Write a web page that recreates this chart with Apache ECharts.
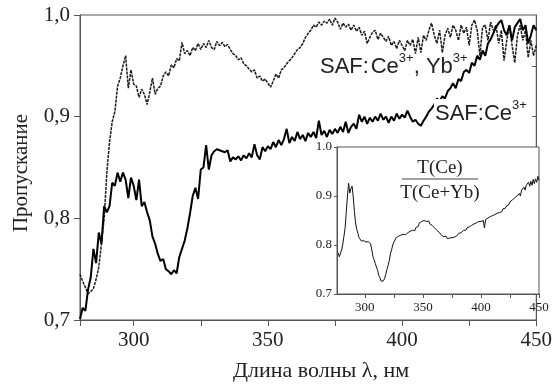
<!DOCTYPE html>
<html>
<head>
<meta charset="utf-8">
<script src="https://cdn.jsdelivr.net/npm/echarts@6/dist/echarts.min.js"></script>
<style>
  html, body { margin: 0; padding: 0; background: #fff; }
  #chart { width: 555px; height: 387px; }
</style>
</head>
<body>
<div id="chart"></div>
<script>
// main spectra, sampled every 1 nm from 280 nm
const mainStart = 280
const mainStep = 1
// SAF:Ce3+, Yb3+ (dotted)
const ceYb = [
  0.745, 0.738, 0.732, 0.726, 0.728, 0.731, 0.740, 0.752, 0.775, 0.800,
  0.845, 0.875, 0.895, 0.905, 0.930, 0.938, 0.950, 0.960, 0.928, 0.946,
  0.932, 0.930, 0.919, 0.927, 0.922, 0.912, 0.924, 0.938, 0.922, 0.928,
  0.930, 0.940, 0.944, 0.940, 0.951, 0.948, 0.957, 0.955, 0.973, 0.962,
  0.965, 0.960, 0.968, 0.965, 0.972, 0.966, 0.972, 0.968, 0.975, 0.968,
  0.966, 0.974, 0.970, 0.973, 0.969, 0.971, 0.966, 0.962, 0.960, 0.956,
  0.958, 0.952, 0.950, 0.947, 0.944, 0.946, 0.938, 0.940, 0.935, 0.937,
  0.933, 0.929, 0.935, 0.942, 0.938, 0.946, 0.948, 0.952, 0.955, 0.958,
  0.962, 0.966, 0.968, 0.972, 0.978, 0.982, 0.985, 0.990, 0.988, 0.993,
  0.990, 0.994, 0.992, 0.996, 0.990, 0.997, 0.993, 0.986, 0.992, 0.988,
  0.991, 0.985, 0.990, 0.984, 0.988, 0.980, 0.984, 0.972, 0.978, 0.983,
  0.985, 0.976, 0.982, 0.978, 0.974, 0.979, 0.970, 0.974, 0.967, 0.975,
  0.970, 0.965, 0.975, 0.970, 0.976, 0.962, 0.978, 0.963, 0.980, 0.975,
  0.985, 0.992, 0.980, 0.972, 0.985, 0.963, 0.980, 0.987, 0.978, 0.990,
  0.985, 0.975, 0.990, 0.982, 0.988, 0.970, 0.990, 0.995, 0.985, 0.960,
  0.988, 0.990, 0.975, 0.993, 0.985, 0.990, 0.972, 0.985, 0.955, 0.975,
  0.990, 0.970, 0.953, 0.980, 0.990, 0.975, 0.985, 0.958, 0.975, 0.960,
  0.970
]
// SAF:Ce3+ (solid)
const ce = [
  0.701, 0.712, 0.709, 0.730, 0.742, 0.770, 0.756, 0.786, 0.775, 0.812,
  0.806, 0.812, 0.835, 0.832, 0.845, 0.836, 0.845, 0.838, 0.820, 0.840,
  0.832, 0.818, 0.838, 0.812, 0.816, 0.806, 0.798, 0.782, 0.775, 0.765,
  0.758, 0.760, 0.750, 0.748, 0.745, 0.749, 0.746, 0.762, 0.770, 0.778,
  0.790, 0.805, 0.822, 0.830, 0.819, 0.848, 0.850, 0.872, 0.848, 0.862,
  0.866, 0.868, 0.867, 0.866, 0.865, 0.867, 0.856, 0.860, 0.858, 0.861,
  0.857, 0.862, 0.859, 0.864, 0.860, 0.873, 0.862, 0.858, 0.870, 0.866,
  0.871, 0.868, 0.875, 0.870, 0.877, 0.872, 0.878, 0.888, 0.874, 0.880,
  0.876, 0.885, 0.878, 0.882, 0.876, 0.884, 0.880, 0.885, 0.879, 0.896,
  0.882, 0.886, 0.880, 0.887, 0.883, 0.888, 0.884, 0.890, 0.885, 0.895,
  0.884, 0.890, 0.893, 0.888, 0.902, 0.895, 0.900, 0.893, 0.899, 0.895,
  0.900, 0.896, 0.903, 0.897, 0.900, 0.894, 0.900, 0.896, 0.903, 0.898,
  0.902, 0.899, 0.906, 0.900, 0.895, 0.897, 0.893, 0.891, 0.896, 0.900,
  0.905, 0.908, 0.912, 0.918, 0.915, 0.920, 0.918, 0.925, 0.928, 0.933,
  0.928, 0.937, 0.935, 0.944, 0.946, 0.943, 0.953, 0.950, 0.960, 0.956,
  0.965, 0.960, 0.972, 0.976, 0.982, 0.988, 0.992, 0.995, 0.985, 0.980,
  0.990, 0.975, 0.988, 0.992, 0.996, 0.985, 0.990, 0.972, 0.980, 0.990,
  0.985
]
// inset: T(Ce)/T(Ce+Yb), every 1 nm from 277 nm
const ratioStart = 277
const ratioStep = 1
const ratio = [
  0.784, 0.776, 0.779, 0.790, 0.802, 0.818, 0.835, 0.868, 0.900, 0.926,
  0.906, 0.915, 0.920, 0.898, 0.868, 0.845, 0.832, 0.824, 0.815, 0.812,
  0.808, 0.812, 0.809, 0.811, 0.806, 0.810, 0.807, 0.806, 0.802, 0.790,
  0.776, 0.770, 0.762, 0.755, 0.748, 0.738, 0.733, 0.726, 0.728, 0.727,
  0.732, 0.740, 0.750, 0.758, 0.768, 0.782, 0.790, 0.800, 0.806, 0.810,
  0.815, 0.812, 0.818, 0.815, 0.820, 0.817, 0.822, 0.818, 0.821, 0.819,
  0.825, 0.822, 0.828, 0.826, 0.830, 0.832, 0.829, 0.836, 0.840, 0.838,
  0.845, 0.842, 0.848, 0.845, 0.850, 0.846, 0.848, 0.845, 0.849, 0.843,
  0.846, 0.840, 0.838, 0.835, 0.833, 0.830, 0.828, 0.826, 0.824, 0.820,
  0.822, 0.817, 0.815, 0.818, 0.813, 0.816, 0.814, 0.818, 0.815, 0.818,
  0.816, 0.820, 0.818, 0.822, 0.824, 0.827, 0.825, 0.829, 0.830, 0.833,
  0.830, 0.835, 0.834, 0.837, 0.836, 0.840, 0.838, 0.843, 0.840, 0.845,
  0.843, 0.848, 0.845, 0.848, 0.844, 0.850, 0.835, 0.852, 0.850, 0.855,
  0.853, 0.858, 0.855, 0.860, 0.858, 0.862, 0.860, 0.865, 0.863, 0.866,
  0.870, 0.868, 0.874, 0.876, 0.875, 0.880, 0.884, 0.882, 0.888, 0.885,
  0.892, 0.890, 0.896, 0.894, 0.900, 0.897, 0.905, 0.900, 0.912, 0.908,
  0.918, 0.912, 0.922, 0.918, 0.928, 0.920, 0.930, 0.922, 0.934, 0.925,
  0.935, 0.928, 0.940, 0.932
]

// ticks and labels
const mainXTicks = [280, 300, 325, 350, 375, 400, 425, 450]
const mainXLabels = [300, 350, 400, 450]
const mainYTicks = [0.7, 0.8, 0.9, 1.0]
const rightYTicks = [0.75, 0.8, 0.85, 0.9, 0.95]
const insetXTicks = [300, 325, 350, 375, 400, 425, 450]
const insetXLabels = [300, 350, 400, 450]
const insetYTicks = [0.7, 0.8, 0.9, 1.0]

function pairs(start, step, arr) {
  return arr.map((v, i) => [start + i * step, v])
}

const serif = 'Liberation Serif'
const axisColor = '#555'
const textColor = '#222'

const chart = echarts.init(document.getElementById('chart'), null, {renderer: 'canvas'})

var option = {
  animation: false,
  backgroundColor: '#fff',
  grid: [
    {
      left: 80, top: 15, right: 5, bottom: 65,
      show: true, borderColor: axisColor, borderWidth: 1,
      backgroundColor: 'transparent'
    },
    {
      left: 337, top: 147, right: 16, bottom: 93,
      show: true, borderColor: axisColor, borderWidth: 1,
      backgroundColor: '#fff', z: 5
    }
  ],
  xAxis: [
    {
      gridIndex: 0, type: 'value', min: 280, max: 450,
      axisLine: {lineStyle: {color: axisColor}},
      axisTick: {customValues: mainXTicks, length: 6, lineStyle: {color: axisColor}},
      axisLabel: {
        customValues: mainXLabels, margin: 10,
        fontFamily: serif, fontSize: 21, color: textColor
      },
      splitLine: {show: false},
      name: 'Длина волны λ, нм',
      nameLocation: 'middle',
      nameGap: 40,
      nameTextStyle: {fontFamily: serif, fontSize: 22, color: textColor, padding: [0, 0, 0, 26]}
    },
    {
      gridIndex: 1, type: 'value', min: 276, max: 450, z: 6,
      axisLine: {lineStyle: {color: axisColor}},
      axisTick: {customValues: insetXTicks, length: 4, lineStyle: {color: axisColor}},
      axisLabel: {
        customValues: insetXLabels, margin: 7,
        fontFamily: serif, fontSize: 13, color: textColor
      },
      splitLine: {show: false}
    }
  ],
  yAxis: [
    {
      gridIndex: 0, type: 'value', min: 0.7, max: 1.0,
      axisLine: {show: true, lineStyle: {color: axisColor}},
      axisTick: {show: true, customValues: mainYTicks, length: 6, lineStyle: {color: axisColor}},
      axisLabel: {
        customValues: mainYTicks, margin: 10,
        fontFamily: serif, fontSize: 21, color: textColor,
        formatter: v => v.toFixed(1).replace('.', ',')
      },
      splitLine: {show: false},
      name: 'Пропускание',
      nameLocation: 'middle',
      nameGap: 48,
      nameRotate: 90,
      nameTextStyle: {fontFamily: serif, fontSize: 21, color: textColor, padding: [0, 11, 0, 0]}
    },
    {
      gridIndex: 0, type: 'value', min: 0.7, max: 1.0, position: 'right',
      axisLine: {show: true, lineStyle: {color: axisColor}},
      axisTick: {show: true, inside: true, customValues: rightYTicks, length: 4, lineStyle: {color: axisColor}},
      axisLabel: {show: false},
      splitLine: {show: false}
    },
    {
      gridIndex: 1, type: 'value', min: 0.7, max: 1.0, z: 6,
      axisLine: {show: true, lineStyle: {color: axisColor}},
      axisTick: {show: true, customValues: insetYTicks, length: 3, lineStyle: {color: axisColor}},
      axisLabel: {
        customValues: insetYTicks, margin: 5,
        fontFamily: serif, fontSize: 13, color: textColor,
        formatter: v => v.toFixed(1)
      },
      splitLine: {show: false}
    }
  ],
  series: [
    {
      name: 'SAF:Ce,Yb', type: 'line', xAxisIndex: 0, yAxisIndex: 0,
      data: pairs(mainStart, mainStep, ceYb),
      showSymbol: false, z: 2,
      lineStyle: {color: '#1a1a1a', width: 1.5, type: [3, 1]}
    },
    {
      name: 'SAF:Ce', type: 'line', xAxisIndex: 0, yAxisIndex: 0,
      data: pairs(mainStart, mainStep, ce),
      showSymbol: false, z: 3,
      lineStyle: {color: '#000', width: 2}
    },
    {
      name: 'ratio', type: 'line', xAxisIndex: 1, yAxisIndex: 2,
      data: pairs(ratioStart, ratioStep, ratio),
      showSymbol: false, z: 7,
      lineStyle: {color: '#111', width: 1}
    }
  ],
  graphic: [
    {
      type: 'text', left: 320, top: 52, z: 10,
      style: {
        text: '{b|SAF:\u200ACe}{s|3+}{b|, Yb}{s|3+}',
        rich: {
          b: {fontFamily: 'Liberation Sans', fontSize: 22, lineHeight: 26, verticalAlign: 'bottom', fill: textColor},
          s: {fontFamily: 'Liberation Sans', fontSize: 13, lineHeight: 14, verticalAlign: 'top', fill: textColor}
        }
      }
    },
    {
      type: 'text', left: 434, top: 99, z: 10,
      style: {
        text: '{b|SAF:Ce}{s|3+}',
        backgroundColor: '#fff',
        padding: [0, 1],
        rich: {
          b: {fontFamily: 'Liberation Sans', fontSize: 22, lineHeight: 26, verticalAlign: 'bottom', fill: textColor},
          s: {fontFamily: 'Liberation Sans', fontSize: 13, lineHeight: 14, verticalAlign: 'top', fill: textColor}
        }
      }
    },
    {
      type: 'text', x: 440, y: 168, z: 10,
      style: {text: 'T(Ce)', font: '19px "Liberation Serif"', fill: textColor, align: 'center', verticalAlign: 'middle'}
    },
    {
      type: 'line', z: 10,
      shape: {x1: 402, y1: 179, x2: 478, y2: 179},
      style: {stroke: '#444', lineWidth: 1}
    },
    {
      type: 'text', x: 440, y: 193, z: 10,
      style: {text: 'T(Ce+Yb)', font: '19px "Liberation Serif"', fill: textColor, align: 'center', verticalAlign: 'middle'}
    }
  ]
};

chart.setOption(option);
</script>
</body>
</html>
